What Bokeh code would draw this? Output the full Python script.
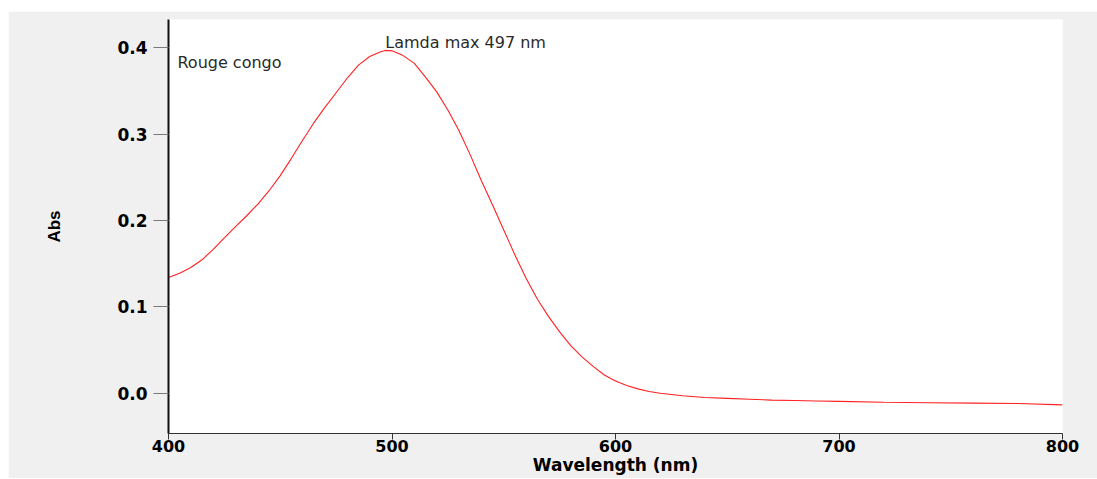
from bokeh.plotting import figure
from bokeh.models import Range1d, FixedTicker, PrintfTickFormatter, Label, Spacer
from bokeh.layouts import column, row
from bokeh.embed import file_html
from bokeh.resources import INLINE

# Data (Congo red)
wavelength = [400, 405, 410, 415, 420, 425, 430, 435, 440, 445, 450, 455, 460, 465,
              470, 475, 480, 485, 490, 495, 497, 500, 505, 510, 515, 520, 525, 530,
              535, 540, 545, 550, 555, 560, 565, 570, 575, 580, 585, 590, 595, 600,
              605, 610, 615, 620, 630, 640, 650, 660, 670, 680, 690, 700, 720, 740,
              760, 780, 800]
absorbance = [0.134, 0.139, 0.1455, 0.1545, 0.1665, 0.180, 0.193, 0.2055, 0.219, 0.2345,
              0.252, 0.272, 0.293, 0.313, 0.331, 0.348, 0.365, 0.380, 0.390, 0.3955,
              0.397, 0.3965, 0.391, 0.382, 0.366, 0.349, 0.328, 0.304, 0.276, 0.246,
              0.218, 0.189, 0.160, 0.133, 0.109, 0.089, 0.071, 0.055, 0.042, 0.031,
              0.021, 0.014, 0.009, 0.005, 0.002, 0.000, -0.003, -0.005, -0.006,
              -0.007, -0.008, -0.0085, -0.009, -0.0095, -0.0105, -0.011, -0.0115,
              -0.012, -0.0135]

x_ticks = [400, 500, 600, 700, 800]
y_ticks = [0.0, 0.1, 0.2, 0.3, 0.4]

x_title = "Wavelength (nm)"
y_title = "Abs"
sample_name = "Rouge congo"
peak_label = "Lamda max 497 nm"

GRAY = "#f0f0f0"
TICK_FONT = "DejaVu Sans"

p = figure(frame_width=894, frame_height=414,
           min_border_left=160, min_border_right=35,
           min_border_top=8, min_border_bottom=45,
           x_range=Range1d(400, 800), y_range=Range1d(-0.0467, 0.4328),
           output_backend="svg", toolbar_location=None,
           background_fill_color="white", border_fill_color=GRAY)
p.outline_line_color = None
p.grid.visible = False

p.line(wavelength, absorbance, line_color="#ff2020", line_width=1.1)

# x axis
xa = p.xaxis[0]
xa.ticker = FixedTicker(ticks=x_ticks)
xa.formatter = PrintfTickFormatter(format="%d")
xa.axis_line_color = "#333333"
xa.axis_line_width = 1
xa.major_tick_in = 0
xa.major_tick_out = 6
xa.major_tick_line_color = "#333333"
xa.minor_tick_line_color = None
xa.major_label_text_font = TICK_FONT
xa.major_label_text_font_style = "bold"
xa.major_label_text_font_size = "16px"
xa.major_label_text_color = "black"
xa.major_label_standoff = 0
xa.axis_label = x_title
xa.axis_label_text_font = TICK_FONT
xa.axis_label_text_font_style = "bold"
xa.axis_label_text_font_size = "17px"
xa.axis_label_text_color = "black"
xa.axis_label_standoff = 0

# y axis
ya = p.yaxis[0]
ya.ticker = FixedTicker(ticks=y_ticks)
ya.formatter = PrintfTickFormatter(format="%.1f")
ya.axis_line_color = "#111111"
ya.axis_line_width = 2
ya.major_tick_in = 0
ya.major_tick_out = 15
ya.major_tick_line_color = "#7a7a7a"
ya.minor_tick_line_color = None
ya.major_label_text_font = TICK_FONT
ya.major_label_text_font_style = "bold"
ya.major_label_text_font_size = "17px"
ya.major_label_text_color = "black"
ya.major_label_standoff = 6
ya.axis_label = y_title
ya.axis_label_text_font = "Liberation Sans"
ya.axis_label_text_font_style = "bold"
ya.axis_label_text_font_size = "17px"
ya.axis_label_text_color = "black"
ya.axis_label_standoff = 50

# annotations
p.add_layout(Label(x=404, y=0.3833, text=sample_name, text_align="left",
                   text_baseline="alphabetic", text_font="DejaVu Sans",
                   text_font_size="16px", text_color="#2a2a2a"))
p.add_layout(Label(x=497, y=0.4065, text=peak_label, text_align="left",
                   text_baseline="alphabetic", text_font="DejaVu Sans",
                   text_font_size="16px", text_color="#2a2a2a"))

layout = column(Spacer(height=11), row(Spacer(width=8), p))
open("out.html", "w").write(file_html(layout, INLINE))
